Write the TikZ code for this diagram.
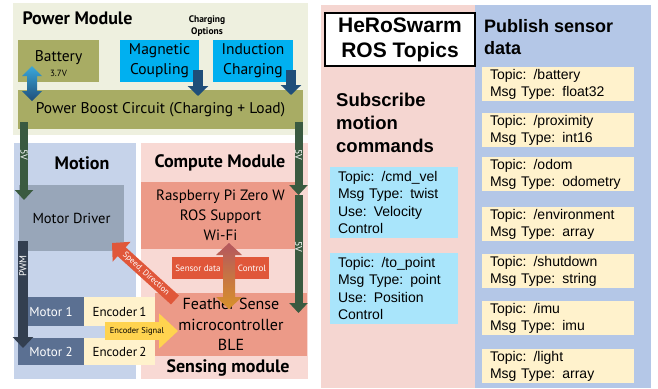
\documentclass[tikz,border=0pt]{standalone}
\usepackage{fontspec}
\setmainfont{PT Sans}
\newfontfamily\arialf{Liberation Sans}
\usetikzlibrary{arrows.meta}
\definecolor{pmbg}{HTML}{EEF0DF}
\definecolor{olive}{HTML}{A8AC64}
\definecolor{cyanb}{HTML}{00B0F0}
\definecolor{motbg}{HTML}{C6D3EA}
\definecolor{cmpbg}{HTML}{F8D9D4}
\definecolor{drvc}{HTML}{98A6B9}
\definecolor{salm}{HTML}{EC9A88}
\definecolor{redb}{HTML}{E0573A}
\definecolor{slate}{HTML}{5B7092}
\definecolor{encc}{HTML}{FFF2CC}
\definecolor{goldc}{HTML}{FFD34F}
\definecolor{greenc}{HTML}{3A5A40}
\definecolor{navyc}{HTML}{333F50}
\definecolor{blueA}{HTML}{1F4E79}
\definecolor{blueL}{HTML}{3AA8DC}
\definecolor{pinkp}{HTML}{F5D6D1}
\definecolor{bluep}{HTML}{B4C7E7}
\definecolor{cyant}{HTML}{A9E5FB}
\definecolor{mauve}{HTML}{B4575E}
\definecolor{dgreen}{HTML}{2F4A38}
\definecolor{orangec}{HTML}{D8922A}
\begin{document}
\begin{tikzpicture}[x=1pt,y=-1pt,
  blk/.style={rectangle,inner sep=0pt,outer sep=0pt,align=center},
  ttl/.style={font=\fontsize{18}{21}\selectfont\bfseries},
  lbl/.style={font=\fontsize{15.5}{20}\selectfont},
  topic/.style={blk,fill=encc,minimum width=152,minimum height=34,
     text width=136,inner xsep=8pt,align=left,
     font=\arialf\fontsize{14}{17}\selectfont},
  sub/.style={blk,fill=cyant,minimum width=128,minimum height=71,
     text width=112,inner xsep=8pt,align=left,
     font=\arialf\fontsize{14}{17.5}\selectfont},
  vfive/.style={draw=greenc,line width=8pt,-{Triangle[length=10pt,width=18pt]}},
  charge/.style={draw=blueA,line width=10pt,-{Triangle[length=10pt,width=20pt]}},
  small/.style={font=\fontsize{10}{11}\selectfont,text=white},
]
\useasboundingbox (0,0) rectangle (658,388);
% panels
\node[blk,fill=pmbg,minimum width=295,minimum height=132] (pm) at (160.5,69) {};
\node[blk,fill=motbg,minimum width=122,minimum height=236] (motp) at (75,261) {};
\node[blk,fill=cmpbg,minimum width=167,minimum height=236] (cmpp) at (224.5,261) {};
\node[blk,fill=pinkp,minimum width=154,minimum height=383] (pinkpan) at (398,196.5) {};
\node[blk,fill=bluep,minimum width=176,minimum height=383] (bluepan) at (563,196.5) {};
% power module
\node[ttl,anchor=west] (pmt) at (19,18) {Power Module};
\node[font=\fontsize{9.5}{12}\selectfont\bfseries,align=center] (chopt) at (207,26) {Charging\\Options};
\node[blk,fill=olive,minimum width=81,minimum height=42] (bat) at (58.5,61) {};
\node[lbl,align=center] (batt) at (58.5,63.5) {Battery\\[-5pt]{\fontsize{9}{10}\selectfont 3.7V}};
\node[blk,lbl,fill=cyanb,minimum width=79,minimum height=42] (mag) at (159.5,61) {Magnetic\\Coupling};
\node[blk,lbl,fill=cyanb,minimum width=80,minimum height=42] (ind) at (253,61) {Induction\\Charging};
\node[blk,lbl,fill=olive,minimum width=285,minimum height=39] (boost) at (160.5,109.5) {Power Boost Circuit (Charging + Load)};
% charge arrows
\coordinate (magA) at (198,70);
\coordinate (magB) at (198,96);
\coordinate (indA) at (291,70);
\coordinate (indB) at (291,95);
\draw[charge] (magA) -- (magB);
\draw[charge] (indA) -- (indB);
% battery double arrow
\shade[top color=blueL,bottom color=blueA]
  (32,66) -- (42,76) -- (37,76) -- (37,91) -- (42,91) -- (32,101) -- (22,91) -- (27,91) -- (27,76) -- (22,76) -- cycle;
% motion
\node[ttl] (mott) at (82,163) {Motion};
\node[blk,fill=drvc,minimum width=105,minimum height=66,font=\fontsize{14.5}{17}\selectfont] (drv) at (71.5,218) {Motor Driver};
\node[blk,fill=slate,text=white,minimum width=66,minimum height=29,font=\fontsize{13}{15}\selectfont] (m1) at (51,311.5) {Motor 1};
\node[blk,fill=encc,minimum width=71,minimum height=29,font=\fontsize{13}{15}\selectfont] (e1) at (119.5,311.5) {Encoder\,1};
\node[blk,fill=slate,text=white,minimum width=66,minimum height=27,font=\fontsize{13}{15}\selectfont] (m2) at (51,351.5) {Motor 2};
\node[blk,fill=encc,minimum width=71,minimum height=27,font=\fontsize{13}{15}\selectfont] (e2) at (119.5,351.5) {Encoder\,2};
% compute
\node[ttl] (cmpt) at (220,163) {Compute Module};
\node[blk,fill=salm,minimum width=159,minimum height=67,font=\fontsize{15}{20}\selectfont] (rpi) at (220.5,215.5) {Raspberry Pi Zero W\\ROS Support\\Wi-Fi};
\node[blk,fill=redb,minimum width=97,minimum height=22] (sens) at (220.5,268) {};
\node[small,font=\fontsize{9}{10}\selectfont] (sdl) at (198,268) {Sensor data};
\node[small,font=\fontsize{9}{10}\selectfont] (ctl) at (252,268) {Control};
\node[blk,fill=salm,minimum width=152,minimum height=63,font=\fontsize{16}{20.5}\selectfont] (fea) at (231,324.5) {Feather Sense\\microcontroller\\BLE};
\node[ttl] (sent) at (228,368) {Sensing module};
% sensor double arrow
\shade[top color=mauve,middle color=dgreen,bottom color=orangec]
  (229,243) -- (242,255) -- (235,255) -- (235,297) -- (242,297) -- (229,309) -- (216,297) -- (223,297) -- (223,255) -- (216,255) -- cycle;
% 5V arrows
\coordinate (lvA) at (24,122);
\coordinate (lvB) at (24,200);
\coordinate (rvA) at (298.5,122);
\coordinate (rvB) at (298.5,195);
\coordinate (rvC) at (298.5,313);
\draw[vfive] (lvA) -- (lvB);
\draw[vfive] (rvA) -- (rvB);
\draw[vfive] (rvB) -- (rvC);
\node[small,rotate=-90] (l5) at (24,155) {5V};
\node[small,rotate=-90] (r5a) at (298.5,155) {5V};
\node[small,rotate=-90] (r5b) at (298.5,247) {5V};
% PWM
\coordinate (pwA) at (23,241);
\coordinate (pwB) at (23,348);
\draw[draw=navyc,line width=10pt,-{Triangle[length=11pt,width=20pt]}] (pwA) -- (pwB);
\node[small,rotate=90] (pwl) at (23,266) {PWM};
% speed direction
\coordinate (spA) at (175,300);
\coordinate (spB) at (112,243);
\draw[draw=redb,line width=12pt,-{Triangle[length=13pt,width=26pt]}] (spA) -- (spB);
\node[font=\fontsize{8.5}{9}\selectfont,text=white,rotate=-42] (spl) at (146,274) {Speed, Direction};
% encoder signal
\coordinate (esA) at (105,331);
\coordinate (esB) at (178,331);
\draw[draw=goldc,line width=18pt,-{Triangle[length=19pt,width=34pt]}] (esA) -- (esB);
\node[font=\fontsize{8.5}{10}\selectfont] (esl) at (137,331) {Encoder Signal};
% right side
\node[blk,draw=black,line width=1.2pt,fill=white,minimum width=150,minimum height=53,
  font=\arialf\fontsize{21}{25}\selectfont\bfseries] (hero) at (400,39.5) {HeRoSwarm\\ROS Topics};
\node[anchor=west,align=left,inner sep=0pt,font=\arialf\fontsize{18}{22}\selectfont\bfseries] (pub) at (484,37) {Publish sensor\\data};
\node[anchor=west,align=left,inner sep=0pt,font=\arialf\fontsize{18.5}{23}\selectfont\bfseries] (subs) at (336,123) {Subscribe\\motion\\commands};
\node[sub] (cmdv) at (394,202.5) {Topic: /cmd\_vel\\Msg Type: twist\\Use: Velocity\\Control};
\node[sub] (topt) at (394,288.5) {Topic: /to\_point\\Msg Type: point\\Use: Position\\Control};
\node[topic] (tb) at (558,84) {Topic: /battery\\Msg Type: float32};
\node[topic] (tp) at (558,130) {Topic: /proximity\\Msg Type: int16};
\node[topic] (to) at (558,174) {Topic: /odom\\Msg Type: odometry};
\node[topic] (te) at (558,224) {Topic: /environment\\Msg Type: array};
\node[topic] (ts) at (558,271) {Topic: /shutdown\\Msg Type: string};
\node[topic] (ti) at (558,318) {Topic: /imu\\Msg Type: imu};
\node[topic] (tl) at (558,366) {Topic: /light\\Msg Type: array};
\end{tikzpicture}
\end{document}
